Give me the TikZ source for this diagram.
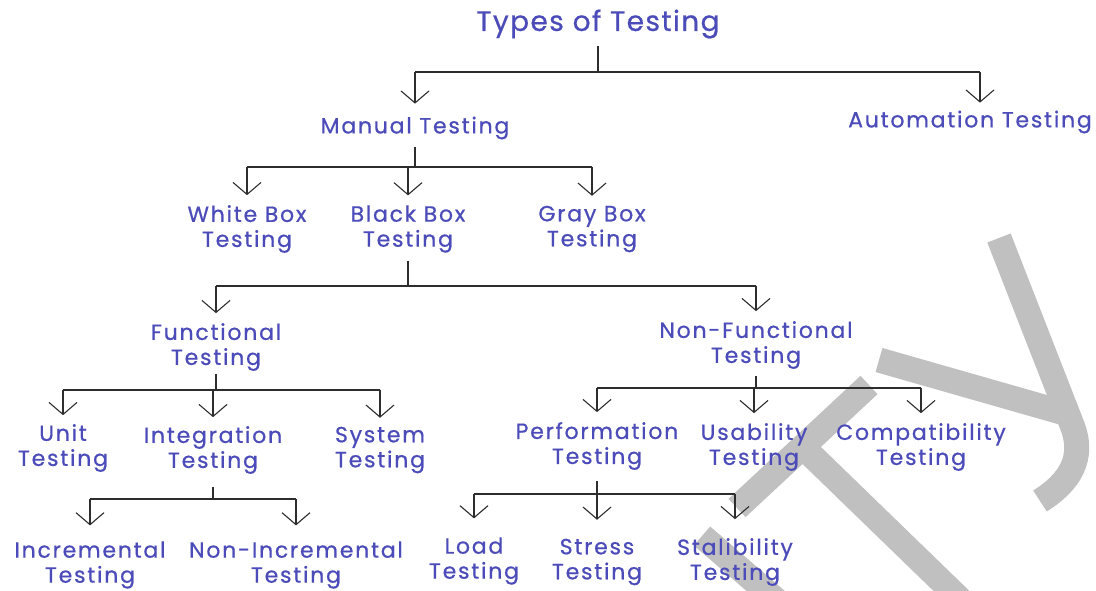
\documentclass[tikz,border=0pt]{standalone}
\usepackage{fontspec}
\setmainfont{Poppins}
\newfontfamily\lblfont{Poppins}[LetterSpace=8, FakeBold=0.6]
\newfontfamily\ttlfont{Poppins}[LetterSpace=5, FakeBold=0.6]
\usetikzlibrary{arrows.meta}
\definecolor{lbl}{RGB}{75,75,185}
\definecolor{wm}{RGB}{192,192,192}
\definecolor{ln}{RGB}{45,45,45}
\begin{document}
\begin{tikzpicture}[x=1pt,y=-1pt,
  lab/.style={text=lbl, font=\lblfont\fontsize{22}{25}\selectfont, align=center, inner sep=0pt, outer sep=0pt},
  link/.style={draw=ln, line width=1.1pt},
  arr/.style={link, -{Straight Barb[length=12pt,width=28pt]}, shorten >=11pt},
  stem/.style={link, shorten <=8pt},
  wmband/.style={draw=wm, line width=25pt}]
\useasboundingbox (0,0) rectangle (1096,590);
\fill[white] (0,0) rectangle (1096,590);

% faint lettering in the background
\begin{scope}
  \clip (0,0) rectangle (1096,590);
  \draw[wmband] (869,385) -- (737,508);
  \draw[wmband] (803,447) -- (1000,638);
  \draw[wmband] (879,360) -- (1068,414);
  \draw[wmband] (999,238) -- (1072,425) .. controls (1085,458) and (1070,482) .. (1040,501);
  \draw[wmband] (702,536) -- (790,612);
\end{scope}

% labels
\node[lab, font=\ttlfont\fontsize{28}{32}\selectfont] (title) at (598,24) {Types of Testing};
\node[lab] (manual) at (415,128) {Manual Testing};
\node[lab] (auto) at (970,122) {Automation Testing};
\node[lab] (white) at (247,229) {White Box\\Testing};
\node[lab] (black) at (408,229) {Black Box\\Testing};
\node[lab] (gray) at (592,229) {Gray Box\\Testing};
\node[lab] (func) at (216,347) {Functional\\Testing};
\node[lab] (nonfunc) at (756,345) {Non-Functional\\Testing};
\node[lab] (unit) at (63,448) {Unit\\Testing};
\node[lab] (integ) at (213,450) {Integration\\Testing};
\node[lab] (system) at (380,450) {System\\Testing};
\node[lab] (perf) at (597,446) {Performation\\Testing};
\node[lab] (usab) at (754,447) {Usability\\Testing};
\node[lab] (compat) at (921,447) {Compatibility\\Testing};
\node[lab] (incr) at (90,565) {Incremental\\Testing};
\node[lab] (nonincr) at (296,565) {Non-Incremental\\Testing};
\node[lab] (load) at (474,561) {Load\\Testing};
\node[lab] (stress) at (597,562) {Stress\\Testing};
\node[lab] (stal) at (735,562) {Stalibility\\Testing};

% bus levels
\coordinate (bus0) at (598,72);
\coordinate (bus1) at (413,167);
\coordinate (bus2) at (410,286);
\coordinate (bus3) at (213,390);
\coordinate (bus4) at (211,499);
\coordinate (bus5) at (754,388);
\coordinate (bus6) at (597,494);
\coordinate (autoin) at ([xshift=10pt]auto.north);

% Types of Testing
\draw[stem] (title.south) -- (title.south |- bus0);
\draw[link] (manual.north |- bus0) -- (autoin |- bus0);
\draw[arr, shorten >=13pt] (manual.north |- bus0) -- (manual.north);
\draw[arr, shorten >=8pt] (autoin |- bus0) -- (autoin);

% Manual Testing
\draw[stem] (manual.south) -- (manual.south |- bus1);
\draw[link] (white.north |- bus1) -- (gray.north |- bus1);
\foreach \c in {white,black,gray}
  \draw[arr, shorten >=10pt] (\c.north |- bus1) -- (\c.north);

% Black Box Testing
\draw[stem] (black.south) -- (black.south |- bus2);
\draw[link] (func.north |- bus2) -- (nonfunc.north |- bus2);
\foreach \c in {func,nonfunc}
  \draw[arr, shorten >=10pt] (\c.north |- bus2) -- (\c.north);

% Functional Testing
\draw[stem, shorten <=3pt] (func.south) -- (func.south |- bus3);
\draw[link] (unit.north |- bus3) -- (system.north |- bus3);
\foreach \c in {unit,integ,system}
  \draw[arr, shorten >=9pt] (\c.north |- bus3) -- (\c.north);

% Integration Testing
\draw[stem, shorten <=13pt] (integ.south) -- (integ.south |- bus4);
\draw[link] (incr.north |- bus4) -- (nonincr.north |- bus4);
\foreach \c in {incr,nonincr}
  \draw[arr, shorten >=16pt] (\c.north |- bus4) -- (\c.north);

% Non-Functional Testing
\draw[stem, shorten <=7pt] (nonfunc.south) -- (nonfunc.south |- bus5);
\draw[link] (perf.north |- bus5) -- (compat.north |- bus5);
\foreach \c in {perf,usab,compat}
  \draw[arr, shorten >=10pt] (\c.north |- bus5) -- (\c.north);

% Performation Testing
\draw[stem, shorten <=11pt] (perf.south) -- (perf.south |- bus6);
\draw[link] (load.north |- bus6) -- (stal.north |- bus6);
\foreach \c in {load,stress,stal}
  \draw[arr, shorten >=19pt] (\c.north |- bus6) -- (\c.north);
\end{tikzpicture}
\end{document}
